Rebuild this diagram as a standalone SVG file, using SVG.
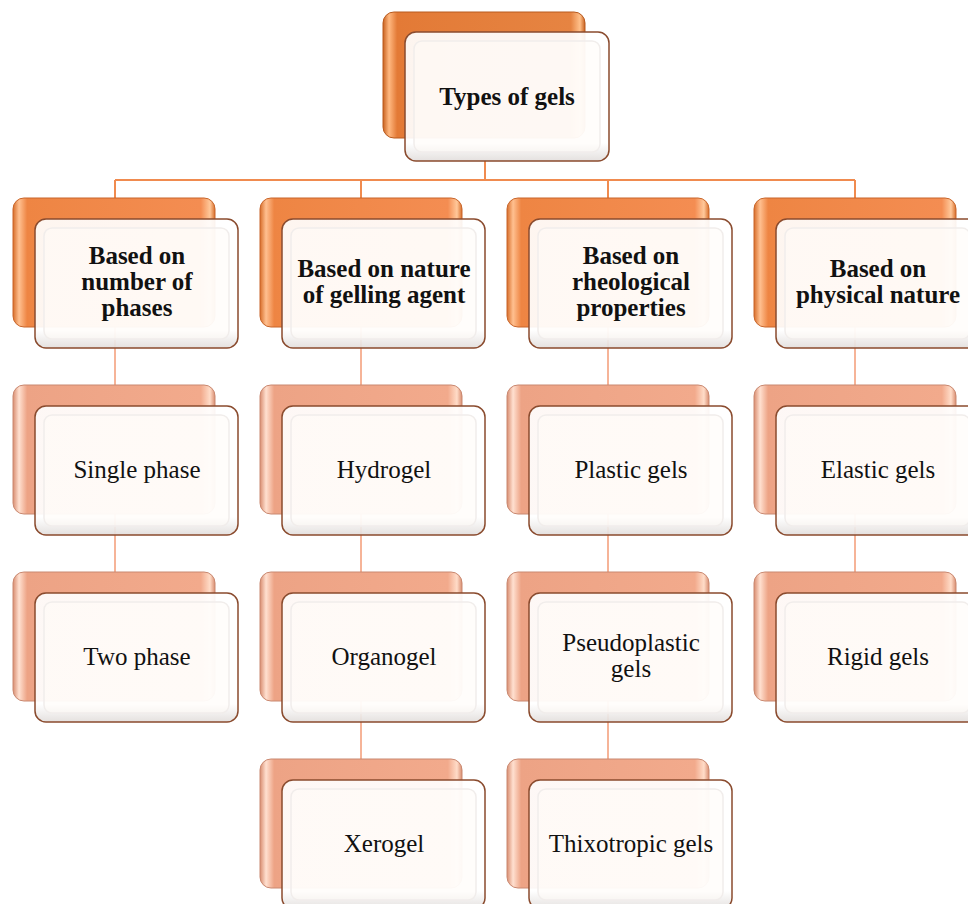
<svg xmlns="http://www.w3.org/2000/svg" width="968" height="904" viewBox="0 0 968 904">
<defs>
<linearGradient id="gTop" x1="0" y1="0" x2="1" y2="0">
<stop offset="0" stop-color="#C9621F"/><stop offset="0.03" stop-color="#FFB880"/><stop offset="0.07" stop-color="#E37A36"/><stop offset="0.93" stop-color="#E68442"/><stop offset="0.975" stop-color="#FFC08A"/><stop offset="1" stop-color="#C9621F"/>
</linearGradient>
<linearGradient id="gCat" x1="0" y1="0" x2="1" y2="0">
<stop offset="0" stop-color="#D86E2A"/><stop offset="0.03" stop-color="#FFC090"/><stop offset="0.07" stop-color="#EE8543"/><stop offset="0.93" stop-color="#F48D52"/><stop offset="0.975" stop-color="#FFC89A"/><stop offset="1" stop-color="#D86E2A"/>
</linearGradient>
<linearGradient id="gLeaf" x1="0" y1="0" x2="1" y2="0">
<stop offset="0" stop-color="#D98D70"/><stop offset="0.03" stop-color="#FFE0D0"/><stop offset="0.07" stop-color="#EDA385"/><stop offset="0.93" stop-color="#F2AA8C"/><stop offset="0.975" stop-color="#FFDCC8"/><stop offset="1" stop-color="#D98D70"/>
</linearGradient>
<linearGradient id="gFront" x1="0" y1="0" x2="0" y2="1">
<stop offset="0" stop-color="#FFFFFF"/><stop offset="0.86" stop-color="#FFFFFF"/><stop offset="1" stop-color="#E2DEDC"/>
</linearGradient>
</defs>
<style>
.backTop{fill:url(#gTop);stroke:#B85A1E;stroke-width:1}
.backCat{fill:url(#gCat);stroke:#C8652A;stroke-width:1}
.backLeaf{fill:url(#gLeaf);stroke:#C98870;stroke-width:1}
.front{fill:url(#gFront);fill-opacity:0.92;stroke:#8A4B2E;stroke-width:1.5}
.inner{fill:#FFFBF8;fill-opacity:0.5;stroke:#F1EDEB;stroke-width:1.5}
.t{font-family:"Liberation Serif","Times New Roman",serif;font-size:25px;fill:#111;text-anchor:middle}
.b{font-weight:bold}
.c1{stroke:#F08B4F;stroke-width:2;fill:none}
.c2{stroke:#F6B498;stroke-width:2;fill:none}
</style>
<g id="connectors">
<path class="c1" d="M485 160V180M115 180H855M115 180V198M361 180V198M608 180V198M855 180V198"/>
<path class="c2" d="M115 327V385M115 514V572M361 327V385M361 514V572M361 700V759M608 327V385M608 514V572M608 700V759M855 327V385M855 514V572"/>
</g>
<g id="n-top">
<rect class="backTop" x="383" y="12" width="202" height="126" rx="11"/>
<rect class="front" x="405" y="32" width="204" height="129" rx="11"/>
<rect class="inner" x="414" y="41" width="186" height="111" rx="8"/>
<text class="t b" x="507" y="105">Types of gels</text>
</g>
<g id="n-phases">
<rect class="backCat" x="13" y="198" width="202" height="129" rx="11"/>
<rect class="front" x="35" y="219" width="203" height="129" rx="11"/>
<rect class="inner" x="44" y="228" width="185" height="111" rx="8"/>
<text class="t b" x="137" y="264">Based on</text>
<text class="t b" x="137" y="290">number of</text>
<text class="t b" x="137" y="316">phases</text>
</g>
<g id="n-agent">
<rect class="backCat" x="260" y="198" width="202" height="129" rx="11"/>
<rect class="front" x="282" y="219" width="203" height="129" rx="11"/>
<rect class="inner" x="291" y="228" width="185" height="111" rx="8"/>
<text class="t b" x="384" y="277">Based on nature</text>
<text class="t b" x="384" y="303">of gelling agent</text>
</g>
<g id="n-rheo">
<rect class="backCat" x="507" y="198" width="202" height="129" rx="11"/>
<rect class="front" x="529" y="219" width="203" height="129" rx="11"/>
<rect class="inner" x="538" y="228" width="185" height="111" rx="8"/>
<text class="t b" x="631" y="264">Based on</text>
<text class="t b" x="631" y="290">rheological</text>
<text class="t b" x="631" y="316">properties</text>
</g>
<g id="n-physical">
<rect class="backCat" x="754" y="198" width="202" height="129" rx="11"/>
<rect class="front" x="776" y="219" width="203" height="129" rx="11"/>
<rect class="inner" x="785" y="228" width="185" height="111" rx="8"/>
<text class="t b" x="878" y="277">Based on</text>
<text class="t b" x="878" y="303">physical nature</text>
</g>
<g id="n-single">
<rect class="backLeaf" x="13" y="385" width="202" height="129" rx="11"/>
<rect class="front" x="35" y="406" width="203" height="129" rx="11"/>
<rect class="inner" x="44" y="415" width="185" height="111" rx="8"/>
<text class="t" x="137" y="478">Single phase</text>
</g>
<g id="n-two">
<rect class="backLeaf" x="13" y="572" width="202" height="129" rx="11"/>
<rect class="front" x="35" y="593" width="203" height="129" rx="11"/>
<rect class="inner" x="44" y="602" width="185" height="111" rx="8"/>
<text class="t" x="137" y="665">Two phase</text>
</g>
<g id="n-hydro">
<rect class="backLeaf" x="260" y="385" width="202" height="129" rx="11"/>
<rect class="front" x="282" y="406" width="203" height="129" rx="11"/>
<rect class="inner" x="291" y="415" width="185" height="111" rx="8"/>
<text class="t" x="384" y="478">Hydrogel</text>
</g>
<g id="n-organo">
<rect class="backLeaf" x="260" y="572" width="202" height="129" rx="11"/>
<rect class="front" x="282" y="593" width="203" height="129" rx="11"/>
<rect class="inner" x="291" y="602" width="185" height="111" rx="8"/>
<text class="t" x="384" y="665">Organogel</text>
</g>
<g id="n-xero">
<rect class="backLeaf" x="260" y="759" width="202" height="129" rx="11"/>
<rect class="front" x="282" y="780" width="203" height="129" rx="11"/>
<rect class="inner" x="291" y="789" width="185" height="111" rx="8"/>
<text class="t" x="384" y="852">Xerogel</text>
</g>
<g id="n-plastic">
<rect class="backLeaf" x="507" y="385" width="202" height="129" rx="11"/>
<rect class="front" x="529" y="406" width="203" height="129" rx="11"/>
<rect class="inner" x="538" y="415" width="185" height="111" rx="8"/>
<text class="t" x="631" y="478">Plastic gels</text>
</g>
<g id="n-pseudo">
<rect class="backLeaf" x="507" y="572" width="202" height="129" rx="11"/>
<rect class="front" x="529" y="593" width="203" height="129" rx="11"/>
<rect class="inner" x="538" y="602" width="185" height="111" rx="8"/>
<text class="t" x="631" y="651">Pseudoplastic</text>
<text class="t" x="631" y="677">gels</text>
</g>
<g id="n-thixo">
<rect class="backLeaf" x="507" y="759" width="202" height="129" rx="11"/>
<rect class="front" x="529" y="780" width="203" height="129" rx="11"/>
<rect class="inner" x="538" y="789" width="185" height="111" rx="8"/>
<text class="t" x="631" y="852">Thixotropic gels</text>
</g>
<g id="n-elastic">
<rect class="backLeaf" x="754" y="385" width="202" height="129" rx="11"/>
<rect class="front" x="776" y="406" width="203" height="129" rx="11"/>
<rect class="inner" x="785" y="415" width="185" height="111" rx="8"/>
<text class="t" x="878" y="478">Elastic gels</text>
</g>
<g id="n-rigid">
<rect class="backLeaf" x="754" y="572" width="202" height="129" rx="11"/>
<rect class="front" x="776" y="593" width="203" height="129" rx="11"/>
<rect class="inner" x="785" y="602" width="185" height="111" rx="8"/>
<text class="t" x="878" y="665">Rigid gels</text>
</g>
</svg>
